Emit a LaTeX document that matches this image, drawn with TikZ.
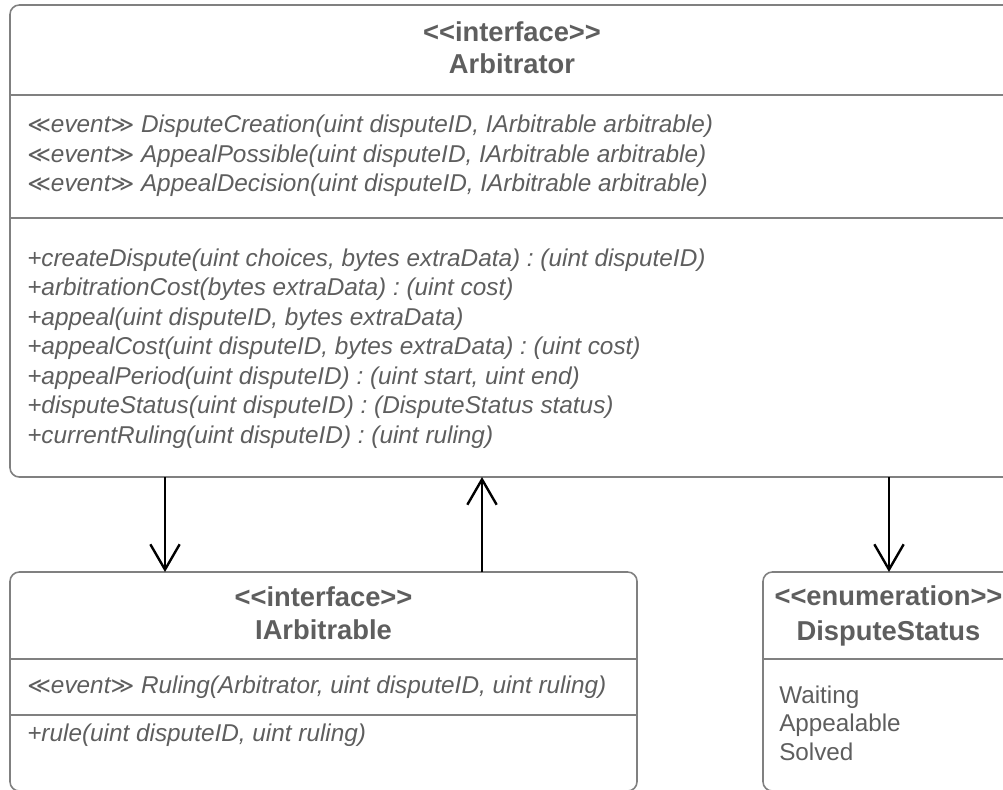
\documentclass[tikz,border=0pt]{standalone}
\usepackage{fontspec}
\setmainfont{Liberation Sans}
\newfontfamily\symfnt{DejaVu Sans}
\usetikzlibrary{arrows.meta,calc}
\frenchspacing
\definecolor{txt}{HTML}{5E5E5E}
\definecolor{bord}{HTML}{808080}
\newcommand{\stereo}[1]{{\symfnt\itshape\fontsize{17}{22}\selectfont ≪}#1{\symfnt\itshape\fontsize{17}{22}\selectfont ≫}}
\tikzset{
  umlbox/.style={draw=bord, line width=1.2pt, rounded corners=7pt, rectangle,
    anchor=north west, inner sep=0pt, outer sep=0pt},
  divline/.style={draw=bord, line width=1.1pt},
  hdr/.style={anchor=base, inner sep=0pt, text=txt, font=\fontsize{20.5}{24}\selectfont\bfseries},
  member/.style={anchor=base west, inner sep=0pt, text=txt, font=\fontsize{18.25}{22}\selectfont\itshape\frenchspacing},
  literal/.style={anchor=base west, inner sep=0pt, text=txt, font=\fontsize{18.2}{22}\selectfont},
  assoc/.style={draw=black, line width=1.8pt, -{Straight Barb[length=19pt, width=22pt, line width=1.8pt]}}
}
\begin{document}
\begin{tikzpicture}[x=0.75pt,y=-0.75pt]
\clip (0,0) rectangle (1003,789);
% boxes
\node[umlbox, minimum width=753pt, minimum height=354pt] (arb) at (10,5) {};
\node[umlbox, minimum width=470.25pt, minimum height=164.25pt] (iarb) at (10,572) {};
\node[umlbox, minimum width=188.25pt, minimum height=164.25pt] (ds) at (763,572) {};
% dividers
\draw[divline] (arb.west |- 0,95) -- (arb.east |- 0,95);
\draw[divline] (arb.west |- 0,218) -- (arb.east |- 0,218);
\draw[divline] (iarb.west |- 0,659) -- (iarb.east |- 0,659);
\draw[divline] (iarb.west |- 0,715) -- (iarb.east |- 0,715);
\draw[divline] (ds.west |- 0,659) -- (ds.east |- 0,659);
% Arbitrator
\node[hdr] (arbst) at (512,41) {<{}<interface>{}>};
\node[hdr] (arbname) at (512,73) {Arbitrator};
\node[member] (ev1) at (27,132) {\stereo{event} DisputeCreation(uint disputeID, IArbitrable arbitrable)};
\node[member] (ev2) at (27,162) {\stereo{event} AppealPossible(uint disputeID, IArbitrable arbitrable)};
\node[member] (ev3) at (27,191.5) {\stereo{event} AppealDecision(uint disputeID, IArbitrable arbitrable)};
\node[member] (m1) at (27,266) {+createDispute(uint choices, bytes extraData) : (uint disputeID)};
\node[member] (m2) at (27,295.5) {+arbitrationCost(bytes extraData) : (uint cost)};
\node[member] (m3) at (27,325) {+appeal(uint disputeID, bytes extraData)};
\node[member] (m4) at (27,354.5) {+appealCost(uint disputeID, bytes extraData) : (uint cost)};
\node[member] (m5) at (27,384) {+appealPeriod(uint disputeID) : (uint start, uint end)};
\node[member] (m6) at (27,413.5) {+disputeStatus(uint disputeID) : (DisputeStatus status)};
\node[member] (m7) at (27,443) {+currentRuling(uint disputeID) : (uint ruling)};
% IArbitrable
\node[hdr] (iarbst) at (323.5,606) {<{}<interface>{}>};
\node[hdr] (iarbname) at (323.5,639) {IArbitrable};
\node[member] (iev) at (27,693) {\stereo{event} Ruling(Arbitrator, uint disputeID, uint ruling)};
\node[member] (irule) at (27,741) {+rule(uint disputeID, uint ruling)};
% DisputeStatus
\node[hdr] (dsst) at (888.5,605) {<{}<enumeration>{}>};
\node[hdr] (dsname) at (888.5,640) {DisputeStatus};
\node[literal] (l1) at (779,703) {Waiting};
\node[literal] (l2) at (779,731.5) {Appealable};
\node[literal] (l3) at (779,760) {Solved};
% connectors
\draw[assoc] ($(arb.south west)+(155,0)$) -- ($(iarb.north west)+(155,0)$);
\draw[assoc] ($(iarb.north west)+(472,0)$) -- ($(arb.south west)+(472,0)$);
\draw[assoc] ($(arb.south west)+(879,0)$) -- ($(ds.north west)+(126,0)$);
\end{tikzpicture}
\end{document}
